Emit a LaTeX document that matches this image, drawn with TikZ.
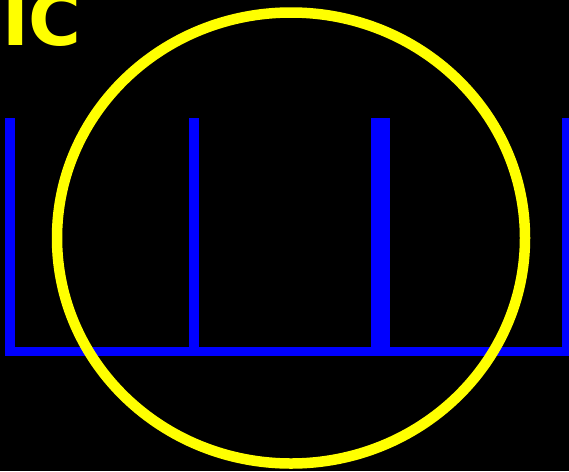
\documentclass[tikz,border=0pt]{standalone}
\usepackage{fontspec}
\setmainfont{DejaVu Sans}
\definecolor{wire}{RGB}{0,0,255}
\definecolor{ring}{RGB}{255,255,0}
\begin{document}
\begin{tikzpicture}[x=1pt,y=-1pt, line join=round, line cap=round]
			\def\ytop{118} \def\ybot{356}
			\fill[black] (0,0) rectangle (569,471);
			\useasboundingbox (0,0) rectangle (569,471);
			% khung dây
			\fill[wire] (5,347) rectangle (575,\ybot);
			\fill[wire] (5,\ytop) rectangle (15,\ybot);
			\fill[wire] (189,\ytop) rectangle (199,\ybot);
			\fill[wire] (371,\ytop) rectangle (390,\ybot);
			\fill[wire] (562,\ytop) rectangle (572,\ybot);
			% vòng tròn
			\draw[ring, line width=10.5] (291,238) ellipse (234 and 225.5);
			\node[ring, font=\bfseries\fontsize{72}{72}\selectfont, anchor=base west, inner sep=0pt] (lbl) at (2,45) {IC};
		\end{tikzpicture}
\end{document}
